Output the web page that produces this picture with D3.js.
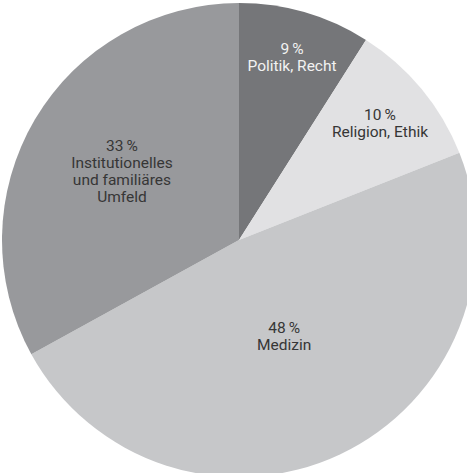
<!DOCTYPE html>
<html>
<head>
<meta charset="utf-8">
<script src="https://cdn.jsdelivr.net/npm/d3@7"></script>
<style>
  html, body { margin: 0; padding: 0; background: #fff; }
  svg { display: block; }
</style>
</head>
<body>
<svg id="chart" width="467" height="473"></svg>
<script>
// Share of topics, clockwise from 12 o'clock
const categories = ["Politik, Recht", "Religion, Ethik", "Medizin", "Institutionelles\nund familiäres\nUmfeld"];
const values = [9, 10, 48, 33];
const colors = ["#757679", "#e1e1e3", "#c6c7c9", "#98999c"];
const textColors = ["#f2f2f2", "#363636", "#363636", "#363636"];

const width = 467, height = 473;
const cx = 239, cy = 240, radius = 237;
// distance of each label block from the centre
const labelDist = [190, 183, 106, 136];

const svg = d3.select("#chart");
const g = svg.append("g").attr("transform", `translate(${cx},${cy})`);

const pie = d3.pie().sort(null).value(d => d.value);
const arcs = pie(values.map((v, i) => ({ value: v, name: categories[i], i })));
const arc = d3.arc().innerRadius(0).outerRadius(radius);

g.selectAll("path.slice")
  .data(arcs)
  .join("path")
  .attr("class", "slice")
  .attr("d", arc)
  .attr("fill", d => colors[d.data.i]);

const lineH = 17;
const labels = g.selectAll("text.label")
  .data(arcs)
  .join("text")
  .attr("class", "label")
  .attr("text-anchor", "middle")
  .attr("font-family", "Roboto, 'DejaVu Sans', sans-serif")
  .attr("font-size", 15.5)
  .attr("fill", d => textColors[d.data.i])
  .attr("transform", d => {
    const a = (d.startAngle + d.endAngle) / 2;
    const r = labelDist[d.data.i];
    return `translate(${r * Math.sin(a)},${-r * Math.cos(a)})`;
  });

labels.each(function(d) {
  const lines = [d.data.value + "\u2009%"].concat(d.data.name.split("\n"));
  const n = lines.length;
  d3.select(this).selectAll("tspan")
    .data(lines)
    .join("tspan")
    .attr("x", 0)
    .attr("y", (l, j) => (j - (n - 1) / 2) * lineH)
    .attr("dy", "0.35em")
    .text(l => l);
});
</script>
</body>
</html>
